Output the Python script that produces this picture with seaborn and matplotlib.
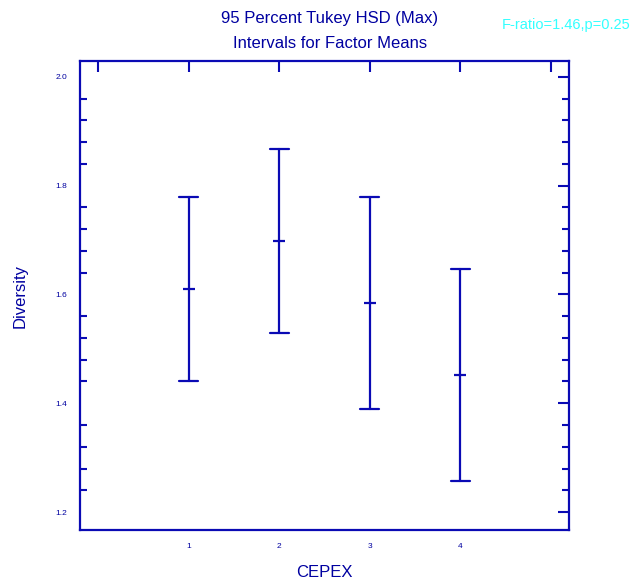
"""Tukey HSD intervals for factor means (Diversity by CEPEX)."""

import numpy as np
import pandas as pd
import matplotlib
matplotlib.use("Agg")
import matplotlib.pyplot as plt
import seaborn as sns

# Levels of the factor and interval values
levels = [1, 2, 3, 4]
means = [1.610, 1.698, 1.584, 1.452]
lower = [1.441, 1.529, 1.389, 1.257]
upper = [1.779, 1.868, 1.779, 1.647]

y_ticks = [1.2, 1.4, 1.6, 1.8, 2.0]
x_ticks = [0, 1, 2, 3, 4, 5]
x_tick_labels = ["", "1", "2", "3", "4", ""]

BLUE = "#0a0ab4"
TEXT = "#0000a0"
CYAN = "#33ffff"

# long table: low / mean / high per level, median gives the mean,
# min/max give the interval ends
df = pd.DataFrame({
    "CEPEX": np.repeat(levels, 3),
    "Diversity": np.column_stack([lower, means, upper]).ravel(),
})

sns.set_theme(style="white")
plt.rcParams["font.family"] = ["Liberation Sans", "DejaVu Sans"]

fig = plt.figure(figsize=(6.34, 5.88), dpi=100)
ax = fig.add_axes([0.1262, 0.0986, 0.7713, 0.7976])

sns.pointplot(
    data=df, x="CEPEX", y="Diversity", native_scale=True,
    estimator="median", errorbar=lambda v: (v.min(), v.max()),
    linestyle="none", marker="_", markersize=8, markeredgewidth=1.6,
    capsize=0.21, err_kws={"linewidth": 1.6}, color=BLUE, ax=ax,
)

ax.set_xlim(-0.2, 5.2)
ax.set_ylim(1.167, 2.029)
ax.set_xticks(x_ticks)
ax.set_xticklabels(x_tick_labels)
ax.set_yticks(y_ticks)
ax.set_yticklabels([f"{t:.1f}" for t in y_ticks])
ax.set_yticks(np.arange(1.2, 2.001, 0.04), minor=True)

ax.tick_params(axis="both", which="major", direction="in", length=8, width=1.5,
               color=BLUE, labelcolor=TEXT, labelsize=6, pad=9,
               top=True, right=True)
ax.tick_params(axis="y", which="minor", direction="in", length=5, width=1.5,
               color=BLUE, left=True, right=True)

for sp in ax.spines.values():
    sp.set_color(BLUE)
    sp.set_linewidth(1.6)

ax.set_xlabel("CEPEX", color=TEXT, fontsize=12, labelpad=11)
ax.set_ylabel("Diversity", color=TEXT, fontsize=12, labelpad=20)

fig.text(0.52, 0.968, "95 Percent Tukey HSD (Max)", ha="center", va="center",
         color=TEXT, fontsize=12)
fig.text(0.52, 0.926, "Intervals for Factor Means", ha="center", va="center",
         color=TEXT, fontsize=12)
fig.text(0.994, 0.957, "F-ratio=1.46,p=0.25", ha="right", va="center",
         color=CYAN, fontsize=10.5)

fig.savefig("out.png", dpi=100)
plt.close(fig)
